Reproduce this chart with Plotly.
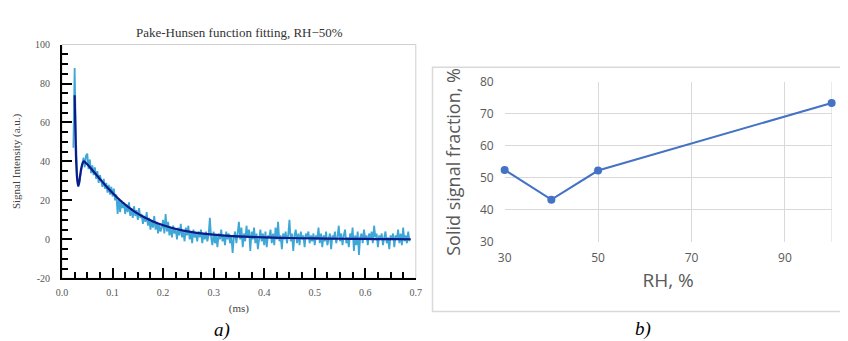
import numpy as np
import plotly.graph_objects as go

# a) Pake-Hunsen fitting, RH = 50 %
t_start = 0.0225
t_step = 0.0025
signal = [
    47, 88, 52, 33, 27, 31, 36, 38, 42, 37, 43, 44, 36, 41, 34, 38, 33, 37, 31, 35,
    29, 33, 30, 27, 31, 26, 29, 24, 28, 23, 27, 22, 26, 20, 23, 13, 21, 14, 20, 16,
    19, 13, 18, 14, 19, 12, 16, 11, 17, 12, 15, 10, 16, 11, 13, 8, 12, 9, 14, 7,
    11, 5, 10, 6, 12, 5, 9, 3, 8, 4, 6, 10, 3, 13, 4, 9, 2, 6, 1, 7,
    3, 5, 0, 6, 2, 8, 1, 4, -1, 6, 2, 7, 0, 4, -2, 5, 1, 3, -1, 4,
    1, 5, -2, 3, 0, 4, -1, 2, 11, 1, -3, 4, -2, 2, -4, 3, 0, 5, -1, 2,
    -3, 4, 0, 3, -2, 2, -7, 1, 4, -2, 3, 9, 0, 6, -4, 3, -1, 7, 1, 5,
    -6, 4, 0, 6, -2, 3, -5, 2, 5, -1, 3, -3, 4, -4, 2, 1, 5, -2, 3, -3,
    6, 0, 9, -1, 2, -5, 3, 0, 4, -2, 2, 10, -1, 3, -6, 2, 5, -2, 3, -3,
    4, 0, 2, -4, 3, 1, 4, -2, 2, -1, 3, -3, 2, 0, 6, -2, 3, -4, 2, -1,
    4, -3, 1, 3, -5, 2, 0, 4, -2, 1, 7, -1, 3, -3, 2, 5, -2, 1, -4, 3,
    0, 6, -6, 2, -3, 4, -8, 1, 3, -2, 5, 0, 2, -3, 3, 0, 4, -2, 7, 1,
    3, -4, 2, 0, 3, -3, 1, 4, -2, 1, -5, 2, 0, 3, -4, 2, 0, 5, -2, 3,
    -3, 6, -1, 2, -2, 4, -1,
]
fit_t = [0.025, 0.026, 0.027, 0.028, 0.030, 0.032, 0.034, 0.036, 0.039, 0.043,
         0.047, 0.050, 0.060, 0.070, 0.080, 0.090, 0.100, 0.110, 0.120, 0.130,
         0.140, 0.150, 0.160, 0.170, 0.180, 0.190, 0.200, 0.220, 0.240, 0.260,
         0.280, 0.300, 0.330, 0.360, 0.400, 0.450, 0.500, 0.550, 0.600, 0.650, 0.690]
fit_val = [74, 62, 50, 40, 31, 27.5, 29, 33, 37.5, 40,
           39.3, 38.5, 35.5, 32.5, 29.5, 26.5, 23.8, 21.2, 18.9, 16.8,
           14.9, 13.2, 11.7, 10.4, 9.2, 8.1, 7.2, 5.7, 4.5, 3.6,
           2.9, 2.4, 1.8, 1.4, 1.0, 0.7, 0.45, 0.3, 0.2, 0.1, 0.05]
y_ticks_a = [-20, 0, 20, 40, 60, 80, 100]
y_labels_a = ["-20", "0", "20", "40", "60", "80", "100"]

# b) solid signal fraction vs RH
rh = [30, 40, 50, 100]
solid_frac = [52.5, 43.2, 52.3, 73.4]

t_signal = t_start + t_step * np.arange(len(signal))

serif = "Liberation Serif"
sans = "Open Sans"

fig = go.Figure()
fig.add_trace(go.Scatter(x=t_signal, y=signal, mode="lines",
                         line=dict(color="#3ea7d6", width=1.8),
                         xaxis="x", yaxis="y", showlegend=False))
fig.add_trace(go.Scatter(x=fit_t, y=fit_val, mode="lines", line_shape="spline",
                         line=dict(color="#0c1a8a", width=2.2),
                         xaxis="x", yaxis="y", showlegend=False))
fig.add_trace(go.Scatter(x=rh, y=solid_frac, mode="lines+markers", cliponaxis=False,
                         line=dict(color="#4472c4", width=2),
                         marker=dict(color="#4472c4", size=8),
                         xaxis="x2", yaxis="y2", showlegend=False))

fig.update_layout(
    width=848, height=341,
    margin=dict(l=0, r=0, t=0, b=0),
    paper_bgcolor="white", plot_bgcolor="white",
    xaxis=dict(
        domain=[0.0563, 0.48], anchor="y", range=[0, 0.7], dtick=0.1, tickformat=".1f",
        showline=True, linecolor="black", linewidth=2, showgrid=False, zeroline=False,
        ticks="inside", ticklen=10, tickwidth=2, tickcolor="black", ticklabelstandoff=4,
        minor=dict(dtick=0.025, ticks="inside", ticklen=6, tickwidth=2, tickcolor="black"),
        tickfont=dict(family=serif, size=10, color="#555"),
        title=dict(text="(ms)", font=dict(family=serif, size=11, color="#444"), standoff=7),
    ),
    yaxis=dict(
        domain=[0.1935, 0.915], anchor="x", range=[-20, 100],
        tickvals=y_ticks_a, ticktext=y_labels_a,
        showline=True, linecolor="black", linewidth=2, showgrid=False, zeroline=False,
        ticks="inside", ticklen=10, tickwidth=2, tickcolor="black", ticklabelstandoff=8,
        minor=dict(dtick=5, ticks="inside", ticklen=6, tickwidth=2, tickcolor="black"),
        tickfont=dict(family=serif, size=10, color="#555"),
        title=dict(text="Signal Intensity (a.u.)", font=dict(family=serif, size=11, color="#444"),
                   standoff=12),
    ),
    xaxis2=dict(
        domain=[0.5864, 0.978], anchor="y2", range=[30, 100], tickvals=[30, 50, 70, 90],
        showline=False, showgrid=True, gridcolor="#d9d9d9", gridwidth=1, zeroline=False,
        ticks="", ticklabelstandoff=7,
        tickfont=dict(family=sans, size=12, color="#595959"),
        title=dict(text="RH, %", font=dict(family=sans, size=19, color="#595959"), standoff=8),
    ),
    yaxis2=dict(
        domain=[0.3059, 0.7997], anchor="x2", range=[30, 80], dtick=10,
        showline=False, showgrid=True, gridcolor="#d9d9d9", gridwidth=1, zeroline=False,
        ticks="", ticklabelstandoff=10,
        tickfont=dict(family=sans, size=12, color="#595959"),
        title=dict(text="Solid signal fraction, %", font=dict(family=sans, size=18, color="#595959"),
                   standoff=14),
    ),
    shapes=[
        # thin box around panel a
        dict(type="rect", xref="paper", yref="paper", x0=0.0563, x1=0.48, y0=0.1935, y1=0.915,
             line=dict(color="#cfcfcf", width=1), layer="below"),
        # right edge gridline of panel b
        dict(type="line", xref="x2", yref="y2", x0=100, x1=100, y0=30, y1=80,
             line=dict(color="#d9d9d9", width=1), layer="below"),
        # chart frame of panel b
        dict(type="rect", xref="paper", yref="paper", x0=0.5, x1=1.01, y0=1 - 310 / 341, y1=1 - 53 / 341,
             line=dict(color="#d9d9d9", width=1.5)),
    ],
    annotations=[
        dict(text="Pake-Hunsen function fitting, RH\u221250%", xref="paper", yref="paper",
             x=228 / 848, y=1 - 16 / 341, showarrow=False, xanchor="center", yanchor="middle",
             font=dict(family=serif, size=13, color="#333")),
        dict(text="<i>a)</i>", xref="paper", yref="paper", x=210 / 848, y=1 - 329 / 341,
             showarrow=False, xanchor="center", yanchor="middle",
             font=dict(family=serif, size=19, color="black")),
        dict(text="<i>b)</i>", xref="paper", yref="paper", x=638 / 848, y=1 - 328 / 341,
             showarrow=False, xanchor="center", yanchor="middle",
             font=dict(family=serif, size=19, color="black")),
    ],
)

fig.write_html("out.html")
